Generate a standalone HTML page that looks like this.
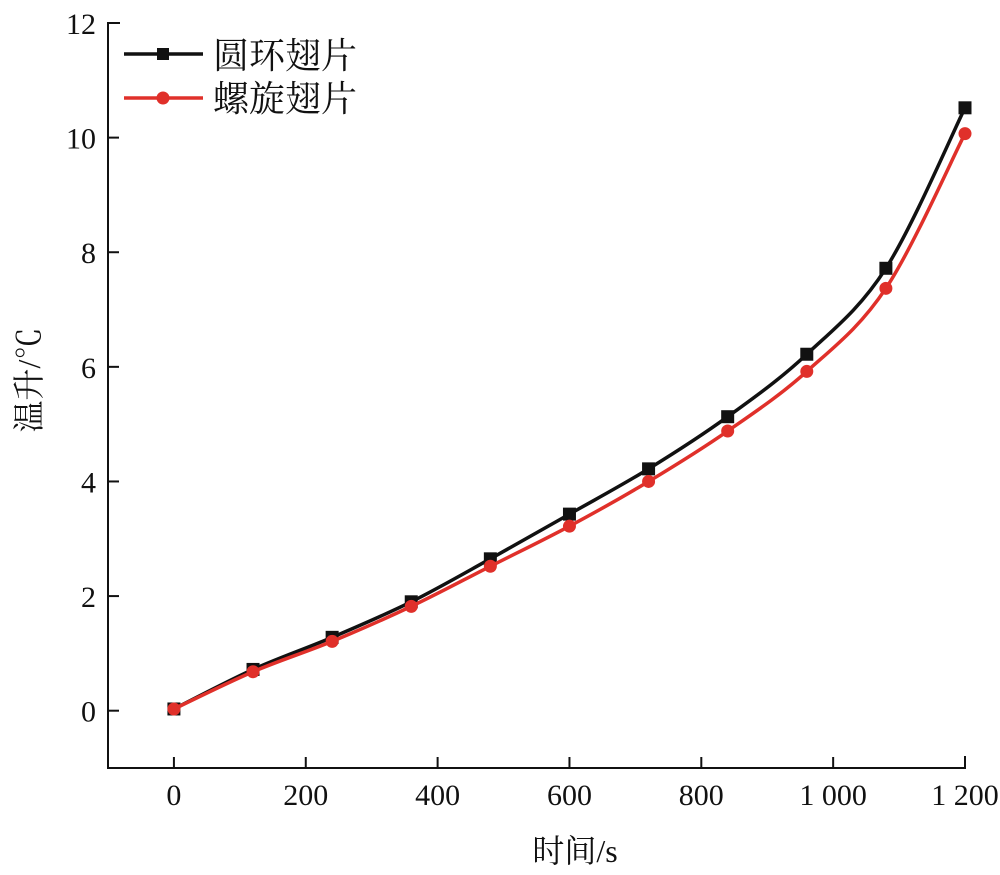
<!DOCTYPE html>
<html><head><meta charset="utf-8"><style>
body{margin:0;background:#fff}
svg{display:block}
text{font-family:"Liberation Serif","Noto Serif CJK SC",serif;fill:#111}
</style></head><body>
<svg id="chart" width="1000" height="875">
<g id="axes"></g>
<g id="series"></g>
<g id="legend">
<line x1="124" y1="54" x2="203" y2="54" stroke="#111" stroke-width="3.5"/>
<rect x="157" y="48" width="12" height="12" fill="#111"/>
<text x="213" y="68" font-size="36">圆环翅片</text>
<line x1="124" y1="98" x2="203" y2="98" stroke="#e0302a" stroke-width="3.5"/>
<circle cx="163" cy="98" r="6.5" fill="#e0302a"/>
<text x="213" y="111" font-size="36">螺旋翅片</text>
</g>
<text x="575" y="862" font-size="32" text-anchor="middle">时间/s</text>
<text transform="translate(40,380) rotate(-90)" font-size="32" text-anchor="middle">温升/℃</text>
</svg>
<script>
const times=[0,120,240,360,480,600,720,840,960,1080,1200];
const ringValues=[0.03,0.72,1.28,1.9,2.65,3.43,4.22,5.13,6.22,7.72,10.52];
const spiralValues=[0.03,0.68,1.21,1.82,2.52,3.22,4.0,4.88,5.92,7.37,10.07];
const xTicks=[0,200,400,600,800,1000,1200];
const xTickLabels=["0","200","400","600","800","1 000","1 200"];
const yTicks=[0,2,4,6,8,10,12];
const yTickLabels=["0","2","4","6","8","10","12"];
const X0=108,X1=965,XMIN=-100,XMAX=1200,Y0=768,Y1=23,YMIN=-1,YMAX=12;
const xs=v=>X0+(v-XMIN)/(XMAX-XMIN)*(X1-X0);
const ys=v=>Y0-(v-YMIN)/(YMAX-YMIN)*(Y0-Y1);
const NS="http://www.w3.org/2000/svg";
function mk(tag,attrs,parent){const e=document.createElementNS(NS,tag);for(const k in attrs)e.setAttribute(k,attrs[k]);parent.appendChild(e);return e;}
const ax=document.getElementById('axes');
let p=mk('path',{d:`M${X0+12},${Y1}H${X0}V${Y0}H${X1}V${Y0-12}`,fill:'none',stroke:'#111','stroke-width':2},ax);


xTicks.forEach((t,i)=>{
 const l=mk('line',{x1:xs(t),x2:xs(t),y1:Y0,y2:Y0-11,stroke:'#111','stroke-width':2},ax);
 
 
 const tx=mk('text',{x:xs(t),y:Y0+37,'font-size':30,'text-anchor':'middle'},ax);
 tx.textContent=xTickLabels[i];
 
 
});
yTicks.forEach((t,i)=>{
 const l=mk('line',{x1:X0,x2:X0+11,y1:ys(t),y2:ys(t),stroke:'#111','stroke-width':2},ax);
 
 
 const tx=mk('text',{x:X0-12,y:ys(t)+11,'font-size':30,'text-anchor':'end'},ax);
 tx.textContent=yTickLabels[i];
 
 
});
function spline(pts){
 let d=`M${pts[0][0]},${pts[0][1]}`;
 for(let i=0;i<pts.length-1;i++){
  const p0=pts[Math.max(0,i-1)],p1=pts[i],p2=pts[i+1],p3=pts[Math.min(pts.length-1,i+2)];
  const c1=[p1[0]+(p2[0]-p0[0])/6,p1[1]+(p2[1]-p0[1])/6];
  const c2=[p2[0]-(p3[0]-p1[0])/6,p2[1]-(p3[1]-p1[1])/6];
  d+=`C${c1[0]},${c1[1]} ${c2[0]},${c2[1]} ${p2[0]},${p2[1]}`;
 }
 return d;
}
const sg=document.getElementById('series');
function draw(vals,color,name,square){
 const pts=times.map((t,i)=>[xs(t),ys(vals[i])]);
 const path=mk('path',{d:spline(pts),fill:'none',stroke:color,'stroke-width':3.5},sg);
 
 
 pts.forEach(q=>{
  const m=square?mk('rect',{x:q[0]-6.5,y:q[1]-6.5,width:13,height:13,fill:color},sg):mk('circle',{cx:q[0],cy:q[1],r:6.5,fill:color},sg);
  
  
 });
}
draw(ringValues,'#111','ring-fin',true);
draw(spiralValues,'#e0302a','spiral-fin',false);
</script>
</body></html>
